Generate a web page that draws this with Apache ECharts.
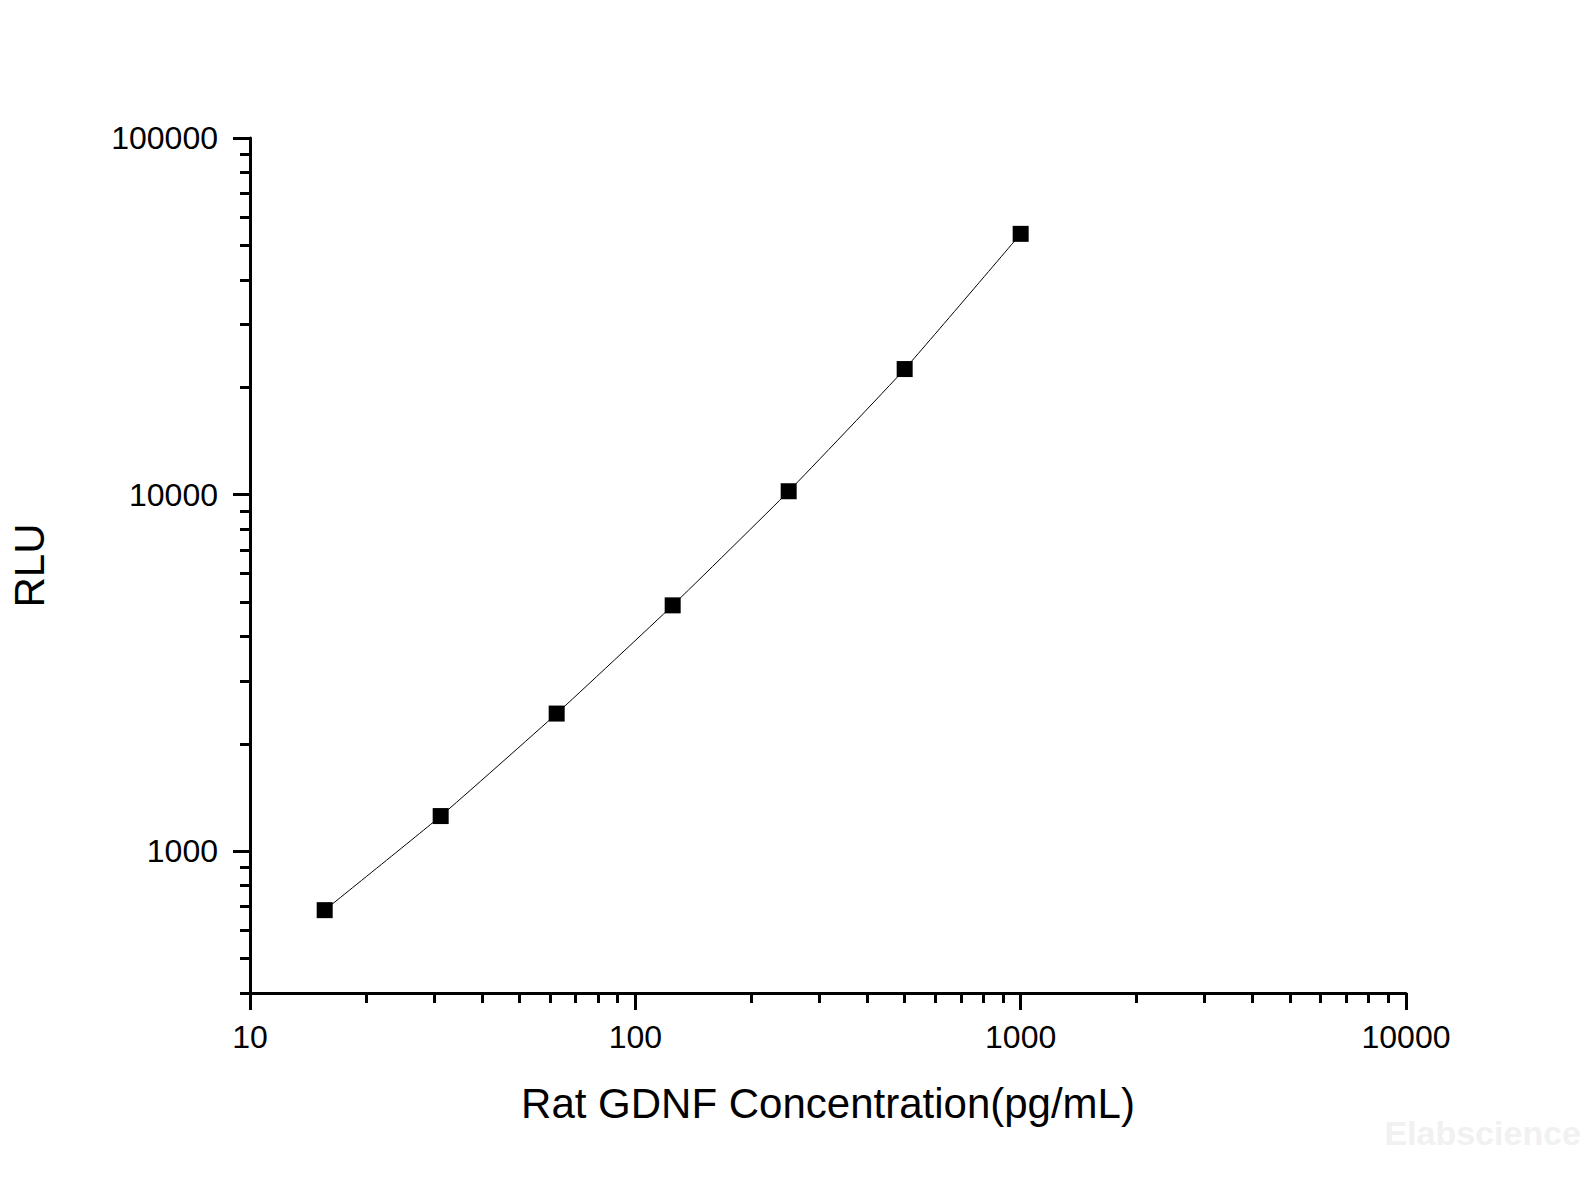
<!DOCTYPE html>
<html>
<head>
<meta charset="utf-8">
<script src="https://cdn.jsdelivr.net/npm/echarts@6/dist/echarts.min.js"></script>
<style>
  html, body { margin: 0; padding: 0; background: #fff; }
  #chart { width: 1585px; height: 1189px; }
</style>
</head>
<body>
<div id="chart"></div>
<script>
// standard curve points
var concentration = [15.625, 31.25, 62.5, 125, 250, 500, 1000];
var rlu = [683, 1254, 2431, 4889, 10216, 22490, 53850];

// axis ticks
var xMajorTicks = [10, 100, 1000, 10000];
var xMinorTicks = [20, 30, 40, 50, 60, 70, 80, 90,
                   200, 300, 400, 500, 600, 700, 800, 900,
                   2000, 3000, 4000, 5000, 6000, 7000, 8000, 9000];
var yMajorTicks = [1000, 10000, 100000];
var yMinorTicks = [400, 500, 600, 700, 800, 900,
                   2000, 3000, 4000, 5000, 6000, 7000, 8000, 9000,
                   20000, 30000, 40000, 50000, 60000, 70000, 80000, 90000];

var chart = echarts.init(document.getElementById('chart'), null, {renderer: 'svg'});

var font = "'Liberation Sans', Arial, sans-serif";

var points = concentration.map(function (c, i) { return [c, rlu[i]]; });

// plain numbers, no thousands separator
function plain(v) { return String(Math.round(v)); }

var option = {
    backgroundColor: '#ffffff',
    animation: false,
    grid: {left: 248, right: 179, top: 138, bottom: 196},
    xAxis: [{
        type: 'log',
        logBase: 10,
        min: 10,
        max: 10000,
        position: 'bottom',
        name: 'Rat GDNF Concentration(pg/mL)',
        nameLocation: 'middle',
        nameGap: 89,
        nameTextStyle: {color: '#000', fontSize: 42, fontFamily: font},
        axisLine: {show: true, onZero: false, lineStyle: {color: '#000', width: 3}},
        axisTick: {show: true, inside: false, length: 17, customValues: xMajorTicks,
                   lineStyle: {color: '#000', width: 3}},
        axisLabel: {show: true, customValues: xMajorTicks, margin: 28, formatter: plain,
                    color: '#000', fontSize: 32, fontFamily: font},
        splitLine: {show: false}
    }, {
        // minor ticks only
        type: 'log',
        logBase: 10,
        min: 10,
        max: 10000,
        position: 'bottom',
        axisLine: {show: false, onZero: false},
        axisTick: {show: true, inside: false, length: 10, customValues: xMinorTicks,
                   lineStyle: {color: '#000', width: 3}},
        axisLabel: {show: false},
        splitLine: {show: false}
    }],
    yAxis: [{
        type: 'log',
        logBase: 10,
        min: 400,
        max: 100000,
        position: 'left',
        name: 'RLU',
        nameLocation: 'middle',
        nameRotate: 90,
        nameGap: 200,
        nameTextStyle: {color: '#000', fontSize: 42, fontFamily: font},
        axisLine: {show: true, onZero: false, lineStyle: {color: '#000', width: 3}},
        axisTick: {show: true, inside: false, length: 17, customValues: yMajorTicks,
                   lineStyle: {color: '#000', width: 3}},
        axisLabel: {show: true, customValues: yMajorTicks, margin: 32, formatter: plain,
                    color: '#000', fontSize: 32, fontFamily: font},
        splitLine: {show: false}
    }, {
        type: 'log',
        logBase: 10,
        min: 400,
        max: 100000,
        position: 'left',
        axisLine: {show: false, onZero: false},
        axisTick: {show: true, inside: false, length: 10, customValues: yMinorTicks,
                   lineStyle: {color: '#000', width: 3}},
        axisLabel: {show: false},
        splitLine: {show: false}
    }],
    graphic: [{
        type: 'text',
        right: 4,
        top: 1116,
        style: {text: 'Elabscience', fill: '#f1f1f1', fontSize: 34,
                fontWeight: 'bold', fontFamily: font}
    }],
    series: [{
        type: 'line',
        xAxisIndex: 0,
        yAxisIndex: 0,
        data: points,
        smooth: 0.15,
        symbol: 'rect',
        symbolSize: 16,
        itemStyle: {color: '#000'},
        lineStyle: {color: '#000', width: 1}
    }]
};

chart.setOption(option);
</script>
</body>
</html>
